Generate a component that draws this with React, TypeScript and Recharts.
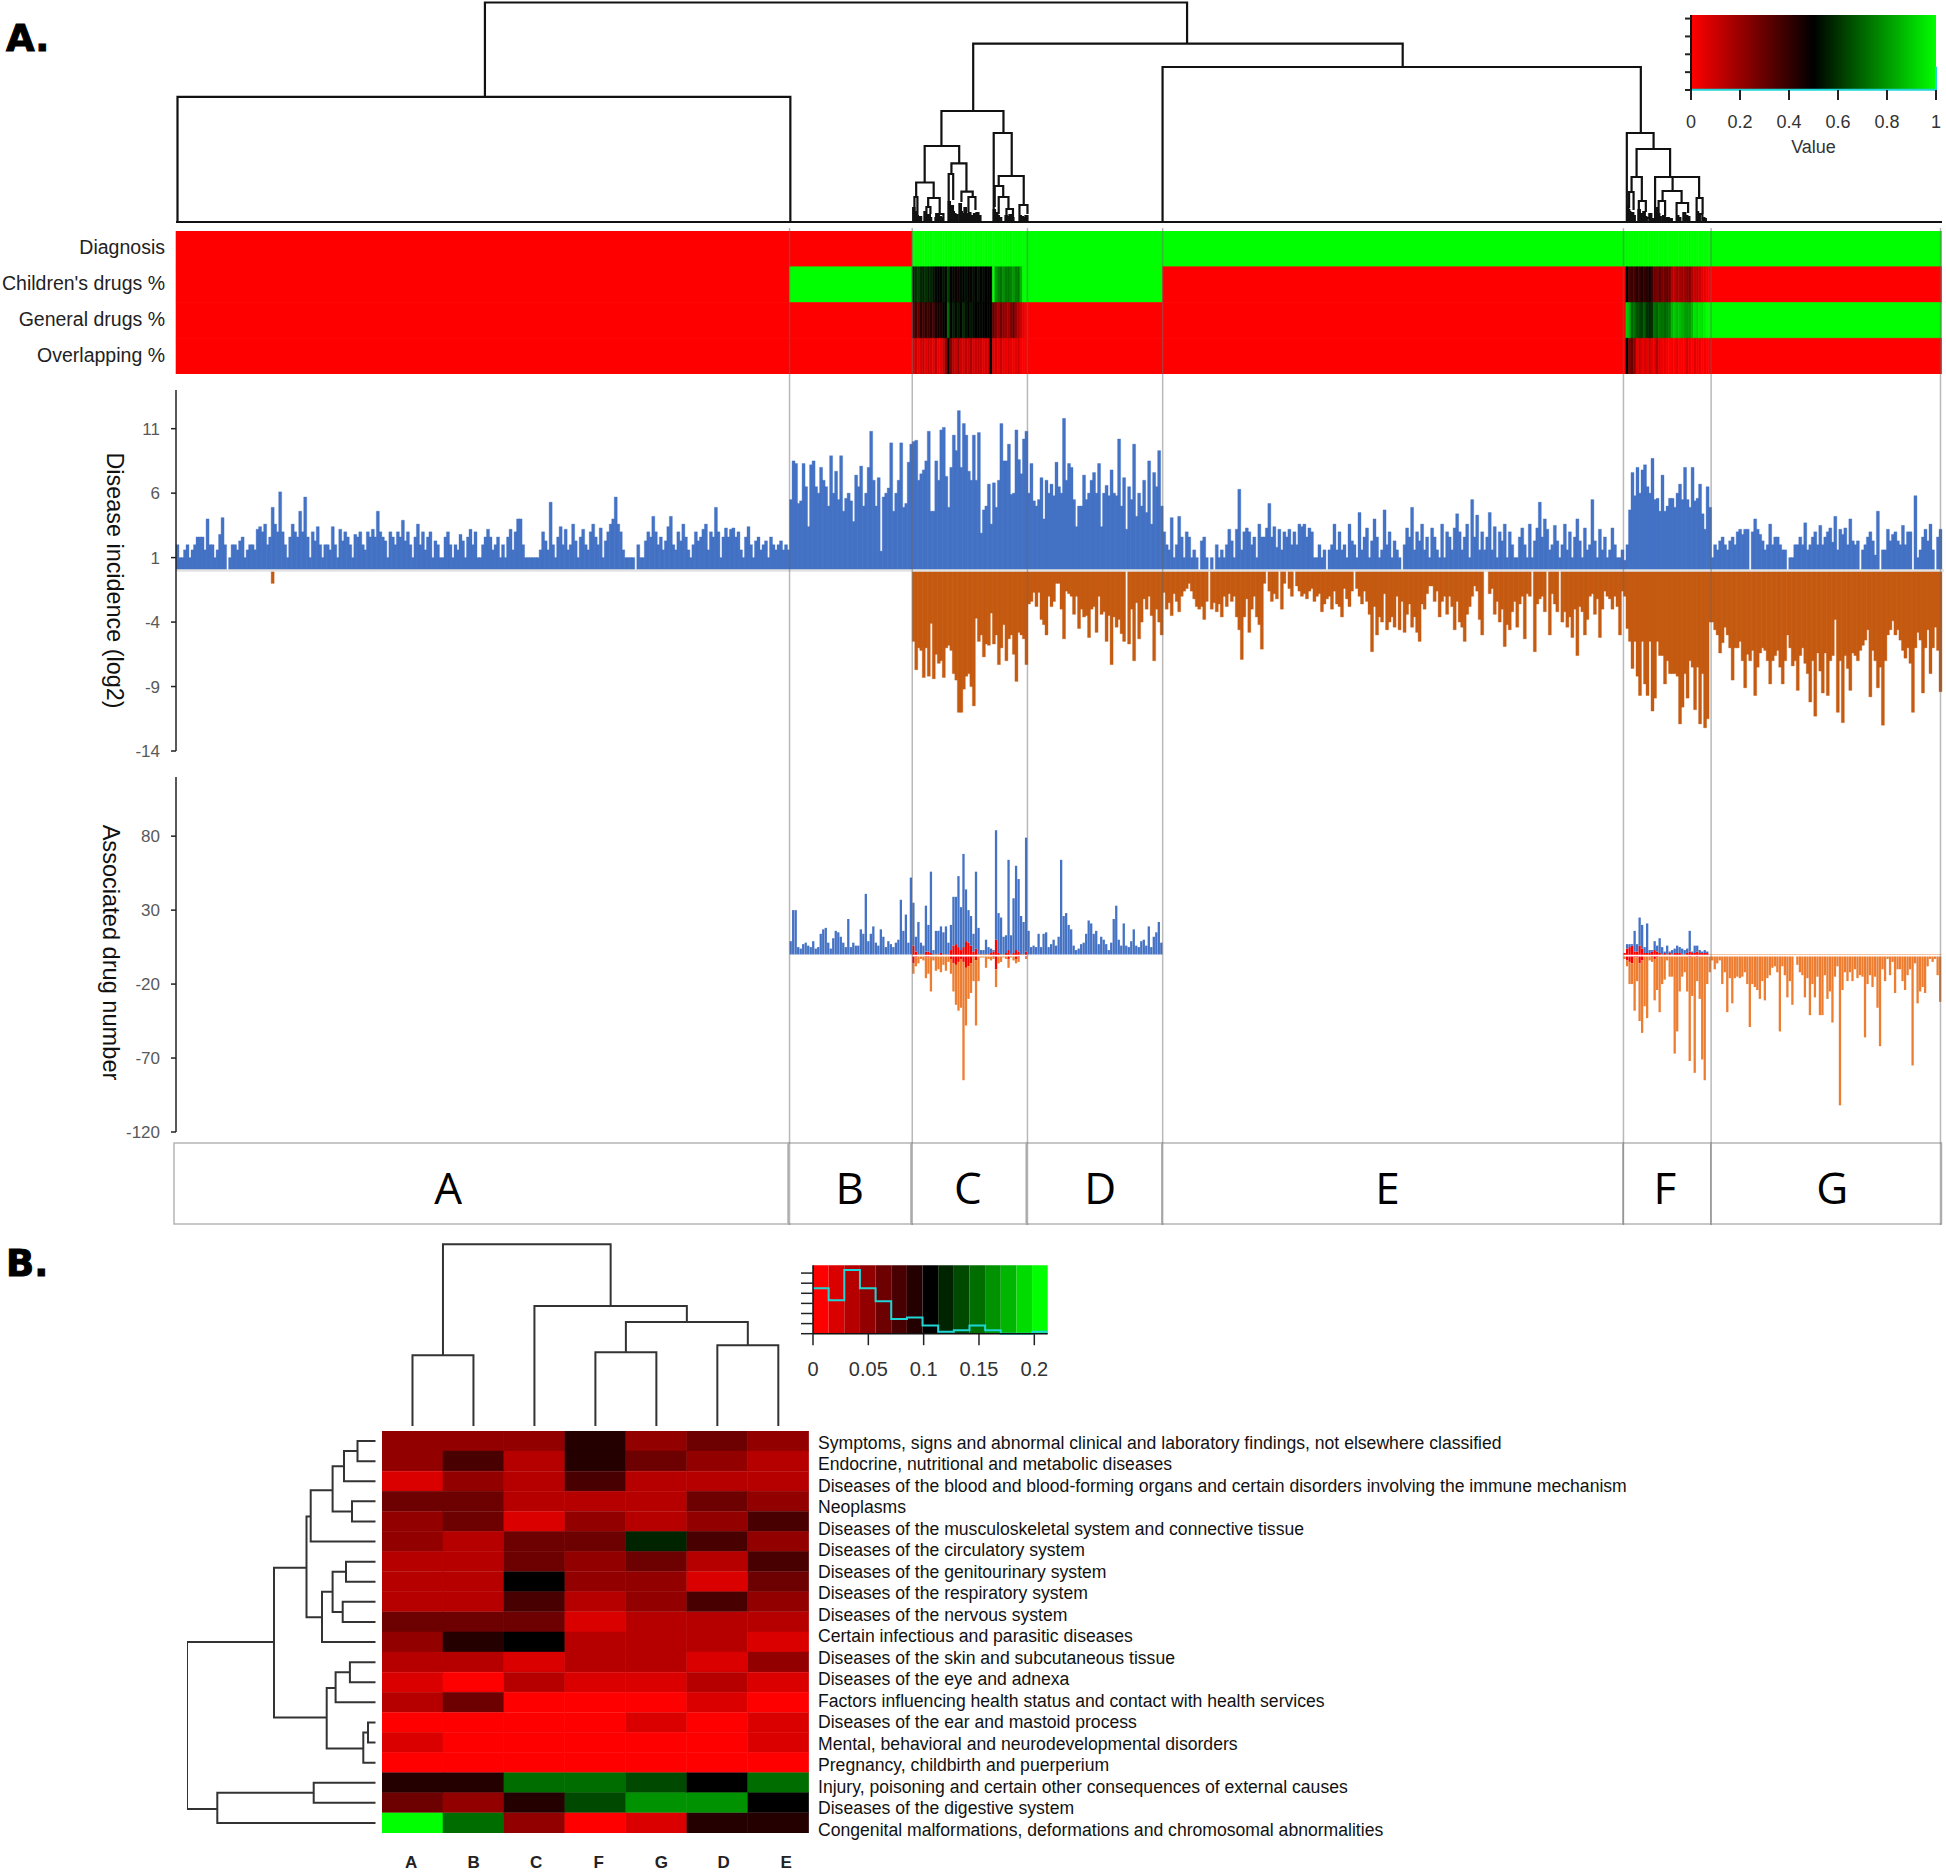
import * as React from "react"
import {
  Bar,
  BarChart,
  Cell,
  ComposedChart,
  LabelList,
  Line,
  LineChart,
  ReferenceArea,
  ReferenceLine,
  XAxis,
  YAxis,
} from "recharts"

const SANS = "'Liberation Sans', Arial, sans-serif"
const NARROW = "'Liberation Sans Narrow', 'Liberation Sans', sans-serif"

// disease groups, sizes are in ranks along the shared x axis
const sectionNames = ["A", "B", "C", "D", "E", "F", "G"]
const sectionSizes = [245, 49, 46, 54, 184, 35, 92]
const sectionEdges = [0, 245, 294, 340, 394, 578, 613, 705]
const separatorRanks = [245, 294, 340, 394, 578, 613, 704.6]
const letterShift: Record<string, number> = { A: -33, B: 0, C: -1, D: 6, E: -5, F: -2, G: 6 }

// Disease incidence (log2), positive side
const incidenceUpA = [
  2,1,1,1.6,2,1,1.6,2,2.6,2.6,2.6,1.6,4,2,2,1,1.6,2.8,4.1,2,
  0,1,2,2,1.6,2.3,2.6,1,1.6,2,2,1.6,3.2,3.4,3,3.6,2,2.6,4.9,3.6,
  3,6.1,3,2,1,2.6,3.6,3,2.6,4.6,3,5.7,2.6,1,3,2.3,3.4,2,1,2,
  2,1.6,3.4,2,1,3.2,2.3,3,2.6,2,1,2.8,2.6,3,2,1.6,3,2.6,3.2,2.6,
  4.6,3,2.6,2.3,1,3,2.6,2,3,2.6,3.9,2.3,3,2,1,2.6,3.6,2,3,1.6,
  2.6,3,1,2.3,2,1,1,2.6,3,2,1,2,1.6,2.8,2.3,1,2.6,3.2,2,3,
  1,1,2,2.6,3.2,2.6,1.6,2,2.6,1,2,1,2.6,3.2,1.6,3,4,4,2,1,
  1,1,1,1,1,1.6,3,2.3,1.6,5.3,2,1,2.6,3.4,2,3.2,1.6,2,3.6,2.3,
  1,2.6,3.2,2,1.6,3,3.6,2.6,2,3.3,1,2.3,3,3.6,4,5.7,3.6,3,1.6,1,
  1,1,1,0,2,1,1,2.3,3,2.6,4.2,3,2,2.6,1.6,2.3,3.4,4.2,2,1.6,
  3,2.3,3.6,2.6,1.6,1,2,3,2.3,2.6,3.2,3.6,1.6,3,2.6,4.9,3,1,2.6,3.3,
  2.6,3.2,3.3,2.6,3,1.6,1,2.6,3.4,2,1,2.3,2.6,1.6,2,2.3,1,2.6,2,1.6,
  2,2.3,1.6,2,1.6,
]
const incidenceUpB = [5.5,8.5,8.3,5.2,5.4,8.3,6.5,3.4,8.2,8.5,6.5,6,8,7,6.5,5,8.9,6,7.7,5.5,8.9,4.6,5.6,6,5.4,3.8,7.4,6.5,8.1,5,6,8,10.8,7,5,7.2,1.5,5.7,6,6.4,9.9,4.6,6,7,9.9,4.9,5.2,8.4,9.8]
const incidenceUpC = [10,10.1,7,7.5,7.8,8.5,10.8,4.6,4.6,8.5,7,10.9,11.1,7.3,4.9,8,10.5,9.3,12.4,8,11.4,10.5,7.7,7,10.5,7,10.7,2.9,4.7,5,6.7,3.6,6.8,4.9,7,11.4,8.5,8.5,9.8,5.9,6,10.9,8.6,7.5,10.2,10.8]
const incidenceUpD = [6,8.3,5.4,5,5.5,7.2,4,7,6,6.7,5.8,8.4,6.5,6,11.8,7,8.3,8,5.5,3.4,5,5,7.4,5.5,6,7,7.6,6,8.3,3.4,6,6.6,5.8,7.8,6,5.8,10.2,5,7.2,3.2,6.5,5.5,9.8,4.2,6,5,7,4.5,8.5,3.6,7.6,6.5,9.3,5]
const incidenceUpE = [
  3,2,1.6,4.1,1,2,4.2,2.6,1,3,2.6,1,1.6,1,0,2.3,2.6,1,0,1,
  0,2,1,1.6,1,2,3.2,2.3,1,3.2,6.3,1.6,3,3.3,3,2,2.6,1,3.6,2.6,
  2.6,3.3,5.2,2.6,3.4,1.8,3.2,1.6,3,2.6,3.2,2,3,2,3.6,3.4,3.6,2.6,3.3,3,
  1,1,2,1,1.6,0,1.6,2,3.6,1.6,3,1.6,2,1,3.6,2.3,2,1,4.5,1.6,
  2.6,3.3,1,2.3,4,2.6,1,1.6,4.7,2,3,1,2.3,1.6,1,0,2,3.3,2.6,4.9,
  1.6,3,2.3,3.6,1.6,2.6,1,3.3,2.6,1.6,1,3.6,1,3,2.6,1.6,3.3,4.4,3,1.6,
  2.6,3.6,1,5.5,2.6,4.3,1.6,3,1.6,2.6,4.5,1.6,3.4,1,3,2.3,3.6,1,3,2,
  1,1,2.6,3.3,2,1,3.6,1,2.3,3.3,5.3,2.6,4,3.2,1.6,2,3.5,2.3,1,2,
  3.6,1.6,3,1,2.6,4,2.3,1,3.3,1.6,2,5.5,2.3,1,3.2,1.6,2.6,1,1.6,3.3,
  2,1,1,1.6,
]
const incidenceUpF = [0.8,2,4.7,7.6,5.8,8,6,7.8,8.2,6.5,6,8.7,5.5,5.6,4.6,7.4,4.6,5,5.6,5.6,4.9,6,6.7,5.5,8,5.5,4.9,8,5.4,5.6,6.7,4.4,3.2,6.5,4.9]
const incidenceUpG = [
  1,2,1.6,2.3,2.6,2,1.6,2.3,2.6,2,3,3.2,2.8,3.2,3.2,0,3,4,3.2,2.8,
  2.3,1.6,2,3.6,2,2.6,2.6,2,1.6,1.6,0,1,1,2,2,2.6,2,3.7,1.6,2,
  2.6,3,2,3.5,2,2.6,3,3.3,2.2,4.2,1.6,3.2,2.8,3.3,2,4,2.3,2,2.3,0,
  1.6,2,2.6,3,2.3,1.2,4.6,0,1.6,1.6,3.2,2.3,2.8,3,2.3,2,3.5,2,3,3,
  0,5.8,1,1.6,2.6,3.2,2.3,3.6,1.6,0,2.6,3.2,
]

// Disease incidence, negative side, kept as magnitudes
const incidenceDownC = [5.5,7.7,6,6.2,8.3,6,8.2,4.1,8.4,6.5,7.2,7,8.3,6,5.8,6.2,8,8.5,11,11,9.2,8.2,8,9,10.5,3.7,5.5,5,6.7,5.7,5.8,3.3,5.7,5,7.3,6,4.2,7,5.3,5,6.5,8.6,4.8,5,5.3,7.3]
const incidenceDownD = [2.6,2.4,1.7,2.8,1.7,3.8,4.2,5,2,2.8,2.4,1,1,3,5.3,1.6,1.8,2,3.4,2,4.5,3,3.6,3.5,5.2,3,2.8,4.8,2,3.4,3.2,5.5,3.5,7.3,3.6,4.4,3.8,4.9,5.5,0,5.7,3,7,2.5,5.3,4,2.2,3,2,3.5,7,3,4,5]
const incidenceDownE = [
  1.7,3,2.5,3.5,1.8,2.4,3.2,2,1.6,1.4,1,1.6,2.2,2.8,3,2.8,3.8,2.4,0,3,
  2.5,3.2,2.6,3.6,2,2.8,1.8,2.4,2,3.6,4.6,6.9,3.6,2.2,4.8,3,2,3.6,4.2,6.1,
  1,0,1.6,2.4,1.8,2.2,0,3,1,0,1.4,2,0,1.2,1.6,2,1.8,2.2,1.6,1.4,
  2.4,2,1.8,3.2,2.6,2.2,2,3,1.6,2.6,2.8,3.6,1.4,2.2,2.8,1.6,0,1.4,2,2.6,
  1.6,2.4,3.4,6.3,2.8,5,3.6,4,1.8,4.6,4,3.6,4.4,2,4.6,2.4,4.8,3.4,2.6,4.4,
  3.6,4.8,5.5,2.6,3,1.8,1.2,1.2,2.4,1.6,3.6,2.4,2,3.4,2,2.8,4.6,2.4,4,4.4,
  5.5,3.4,2.8,2,1.2,1.6,3.8,5,0,0,1.8,1.4,3.4,2.4,4,3,5.9,4.2,4.6,3.2,
  2.4,4.4,2.6,2,5.3,1.8,2,0,6.3,2.6,2.2,2,3.2,0,5,1.8,2.6,3.2,0,4,
  3.2,4.4,3.6,5.2,3,6.6,2.8,3.2,5,3.8,2,1.8,3.4,2.2,5.2,3,1.6,2,2.2,3,
  2,2.8,5,1.6,
]
const incidenceDownF = [2,4.5,5.5,7.6,5.5,8.2,9.7,5.5,8.8,9.7,5.5,10.9,9.9,5.5,6.6,6.6,8.8,7,8,8,8,8.2,11.9,10.6,8,9.9,7,7.5,10.8,7.5,11.9,8,12.2,11.5,4]
const incidenceDownG = [
  4,4.6,5,6.4,5.6,4.4,5,6,8.5,6,6,5.5,7,9.1,6.5,7,6.2,9.7,7.5,6.4,
  6,6.2,7,8.8,7,6.6,6.2,7.5,8.8,7,5,6,7.4,7,9.3,6.6,6,7.2,8,10.2,
  7,11.3,6.4,7.8,9.5,6.4,9.7,7,6.6,3.8,11,7,11.8,6.6,7.6,9.3,6.4,6.6,7,6.2,
  5.8,5.4,4.6,9.8,6.2,7,9.1,7.5,12,7,5,4.6,3.9,5,4.6,5.4,6.2,6.8,6,7.2,
  11,6,4.8,5.4,9.5,6,4.6,8,6,4.4,6.2,9.4,
]
const strayDownRank = 38
const strayDownValue = 1

// Associated drug number
const drugUpB = [9,30,30,5,4,7,8,6,5,9,4,5,14,17,18,8,4,11,16,15,12,8,5,24,5,8,6,6,17,14,41,9,14,19,8,6,17,12,5,9,7,5,8,10,37,16,27,8,52]
const drugUpC = [35,12,22,8,6,33,20,56,3,16,16,19,15,19,8,20,39,39,53,32,68,44,30,26,14,56,18,3,3,10,5,4,3,84,28,25,12,13,64,13,38,60,51,26,22,79]
const drugUpD = [16,5,6,5,14,5,14,15,5,7,10,6,12,64,26,28,20,17,6,3,4,7,8,14,23,21,14,16,7,12,10,7,3,8,24,33,10,6,21,6,5,9,17,6,5,9,10,6,19,5,12,15,22,8]
const drugUpF = [0,7,7,7,16,7,25,20,5,21,3,3,9,6,11,5,2,6,2,3,4,6,5,4,3,4,16,2,6,6,3,2,3,2,0]
const drugDownC = [13,8,6,3,4,16,13,25,4,11,10,12,7,11,5,13,25,34,38,36,85,48,30,26,18,48,18,2,2,9,3,4,3,22,6,5,2,3,9,2,4,6,5,1,1,3]
const drugDownF = [3,8,20,20,38,18,45,53,35,43,4,5,31,24,39,20,17,4,15,15,67,52,25,15,12,25,72,28,80,18,30,71,85,20,12]
const drugDownG = [
  4,10,6,4,20,12,39,16,33,16,15,16,15,12,20,49,20,22,24,30,
  18,31,16,14,9,8,12,52,8,14,29,18,34,1,7,12,14,29,16,41,
  20,29,15,41,41,14,30,25,46,15,8,102,24,12,18,12,18,10,16,14,
  15,56,20,14,22,15,36,62,10,18,3,14,5,26,10,10,18,24,14,10,
  75,6,33,25,22,26,8,3,5,3,14,32,
]
const overlapC = [6,2,0,0,0,2,2,1,0,0,0,1,0,0,0,3,6,7,5,3,5,9,8,6,2,4,0,0,0,0,0,1,2,10,1,0,0,1,3,0,1,3,2,0,0,2]
const overlapF = [1,4,5,6,2,2,6,4,1,1,1,2,3,2,1,0,1,0,1,0,1,1,1,0,0,1,2,1,1,2,1,1,1,1,0]

// top heat strip, values 0..1
const heatRowNames = ["Diagnosis", "Children's drugs %", "General drugs %", "Overlapping %"]
const childrenC = [.58,.6,.62,.58,.56,.6,.55,.58,.54,.52,.5,.5,.54,.52,.62,.5,.52,.47,.48,.52,.5,.54,.5,.48,.53,.5,.54,.5,.52,.5,.5,.5,1,.8,.75,.72,.78,.74,.72,.76,.8,.75,.72,.85,1,1]
const generalC = [.32,.38,.3,.42,.36,.4,.38,.42,.36,.44,.46,.44,.48,.5,.7,.5,.56,.52,.55,.5,.58,.54,.5,.55,.52,.5,.5,.52,.5,.5,.5,.5,.3,.25,.2,.28,.22,.2,.18,.24,.3,.2,.16,.1,.05,0]
const overlappingC = [.05,.1,.05,.08,.12,.05,.12,.08,.05,.12,.05,.04,.1,.2,.48,.25,.15,.1,.2,.1,.08,.12,.1,.16,.08,.1,.12,.1,.06,.08,.1,.5,.05,.08,.05,.1,.05,.04,.08,.05,.03,.05,.1,.02,0,0]
const childrenF = [.5,.36,.38,.36,.42,.38,.44,.4,.42,.46,.38,.28,.26,.32,.26,.28,.3,.28,.15,.12,.18,.16,.2,.18,.22,.24,.16,.1,.12,.1,.06,.04,.02]
const generalF = [.9,.85,.7,.72,.66,.64,.62,.68,.6,.58,.6,.72,.7,.74,.72,.7,.72,.74,.85,.9,.86,.88,.84,.82,.8,.8,.86,.95,.92,.96,.94,.98,1]
const overlappingF = [.5,.25,.3,.22,.05,.1,.05,.08,.05,.1,.05,.05,.15,.05,.03,.05,.02,0,.03,0,.05,0,.02,0,.08,.03,0,.06,.02,.04,0,.02,0]

// top dendrogram: left, right, height, left drop, right drop
const topTree = [
  [0, 706, 0],
  [123.5,404.2,219.5,125.2,178.4],[0.6,245.6,125.2],[318.7,490.4,178.4,111,155],[306,330.8,111,76,89],
  [394.4,585.6,155,0,89],[580,590.7,89,0,73],
  [299.3,313.1,76,39.5,58.7],[295.9,302.9,39.5,25,24],[310,316,58.7,48,30.3],[308.9,310.7,48,18,22],
  [314,318.5,30.3,20,25],[316.8,319.6,25,10,12],[295.2,296.4,25,12,0],[300.7,305.3,24,15,8],[300,301.6,15,6,8],
  [303.9,306.8,8,3,4],[326.9,334.1,89,0,46],[328.9,338.9,46,36,17],[327.3,330.7,36,15,25],[328.9,332.8,25,8,13],
  [332,334.6,13,4,5],[337.2,340.4,17,6,8],
  [294.7,295.3,14],[294.9,295.7,10],[295.3,296,7],[296,296.6,6],[296.6,297.2,4],[297.2,297.9,5],
  [299.2,299.8,10],[299.5,300.2,7],[300.2,300.8,5],[300.8,301.4,7],[301.4,301.9,4],
  [303.6,304.2,4],[304.4,305,6],[305.2,305.8,5],[306,306.8,4],
  [308.8,309.4,20],[309,309.6,14],[309.4,310,12],[310,310.6,16],[310.4,311,10],[311,311.6,8],[311.6,312.3,7],
  [313.2,313.8,18],[313.6,314.2,10],[314.2,314.8,8],[315.2,315.8,14],[315.6,316.4,8],[316.2,316.8,5],
  [316.9,317.6,9],[317.6,318.2,6],[318.4,319,5],[319,319.8,8],[320,320.8,9],[320.8,321.6,6],
  [326.8,327.4,12],[327.2,327.8,8],[327.8,328.4,9],[328.4,329,6],[329,329.9,4],
  [331.6,332.2,6],[332.4,333,5],[333.2,333.8,7],[334,334.8,4],
  [337.2,337.8,6],[338,338.6,5],[338.8,339.4,4],[339.6,340.4,6],
  [583.9,597.3,73,45,45],[581.9,586,45,30,21],[580.9,582.7,30,14,12],[591.3,608.9,45,14,24],[598.3,598.3,45,31,31],
  [594.3,601.9,31,21,19],[607.9,610.3,24,10,8],[592.7,595.3,21,8,6],[599.9,604.5,19,6,9],[584.8,587.6,21,12,10],
  [580,580.6,16],[580.3,581,12],[580.8,581.4,10],[581.3,582,8],[582,582.6,9],[582.6,583.2,6],
  [584.6,585.2,12],[585,585.6,7],[585.8,586.4,8],[586.6,587.2,10],[587.2,587.8,5],[588,589,4],[589,589.8,8],[590.4,591,3],
  [591.3,592,14],[592.4,593,8],[593,593.6,5],[594.5,595.2,6],[596,596.8,4],[597.4,598,3],[599.9,600.6,6],[600.6,601.4,4],
  [602.6,603.4,9],[603.4,604.2,6],[604.4,605,5],[607.9,608.5,10],[608.4,609,6],[609.2,610.2,8],[610.2,611,4],[611,611.6,3],
]

// colour key A
const keyAValues = [0, 0.25, 0.5, 0.75, 0.99, 1]
const keyACounts = [0.02, 0.02, 0.02, 0.02, 0.02, 1.3]
const keyATicks = [0, 0.2, 0.4, 0.6, 0.8, 1]

// panel B
const columnNames = ["A", "B", "C", "F", "G", "D", "E"]
const diseaseNames = [
  "Symptoms, signs and abnormal clinical and laboratory findings, not elsewhere classified",
  "Endocrine, nutritional and metabolic diseases",
  "Diseases of the blood and blood-forming organs and certain disorders involving the immune mechanism",
  "Neoplasms",
  "Diseases of the musculoskeletal system and connective tissue",
  "Diseases of the circulatory system",
  "Diseases of the genitourinary system",
  "Diseases of the respiratory system",
  "Diseases of the nervous system",
  "Certain infectious and parasitic diseases",
  "Diseases of the skin and subcutaneous tissue",
  "Diseases of the eye and adnexa",
  "Factors influencing health status and contact with health services",
  "Diseases of the ear and mastoid process",
  "Mental, behavioral and neurodevelopmental disorders",
  "Pregnancy, childbirth and puerperium",
  "Injury, poisoning and certain other consequences of external causes",
  "Diseases of the digestive system",
  "Congenital malformations, deformations and chromosomal abnormalities",
]
const shareRows = [
  [.05,.05,.05,.092,.05,.064,.05],
  [.05,.078,.035,.092,.064,.05,.035],
  [.021,.05,.035,.078,.035,.035,.035],
  [.064,.064,.035,.035,.035,.064,.05],
  [.05,.064,.021,.05,.035,.05,.078],
  [.05,.035,.064,.064,.12,.078,.05],
  [.035,.035,.064,.05,.064,.035,.078],
  [.035,.035,.106,.05,.05,.021,.064],
  [.035,.035,.078,.035,.05,.078,.05],
  [.064,.064,.064,.021,.035,.035,.035],
  [.05,.092,.106,.035,.035,.035,.021],
  [.035,.035,.021,.035,.035,.021,.05],
  [.021,.007,.035,.021,.021,.035,.021],
  [.035,.064,.007,.007,.007,.021,.007],
  [.007,.007,.007,.007,.021,.007,.021],
  [.021,.007,.007,.007,.007,.007,.021],
  [.007,.007,.007,.007,.007,.007,.007],
  [.092,.092,.148,.148,.134,.106,.148],
  [.064,.05,.092,.134,.163,.163,.106],
  [.205,.148,.05,.007,.021,.092,.092],
]
const keyBBinCount = 15
const keyBMax = 0.2121
const keyBCounts = [4.5,3.3,6.3,4.5,3.2,1.45,1.6,.8,.2,.35,.8,.35,0,0,.2]
const keyBTicks = [0, 0.05, 0.1, 0.15, 0.2]

const columnTree = [
  [0.5,1.5,70.7],[3.5,4.5,73.8],[5.5,6.5,80.7],[4,6,104,73.8,80.7],[2.5,5,120,0,104],[1,3.75,181.7,70.7,120],
]
// left tree: depth of the join, row from, row to, depth at from, depth at to
const rowTree = [
  [170.5,0.5,1.5,188.5,188.5],[157,1,2.5,170.5,188.5],[165,3.5,4.5,188.5,188.5],[145.6,1.75,4,157,165],
  [123.7,2.95,5.5,145.6,188.5],[159,6.5,7.5,188.5,188.5],[155.7,8.5,9.5,188.5,188.5],[145.6,7,9,159,155.7],
  [135,8,10.5,145.6,188.5],[119.5,4.25,9.27,123.7,135],[162.9,11.5,12.5,188.5,188.5],[148.6,12,13.5,162.9,188.5],
  [181,14.5,15.5,188.5,188.5],[176.3,15,16.5,181,188.5],[139.7,12.78,15.8,148.6,176.3],[87,6.8,14.25,119.5,139.7],
  [126.7,17.5,18.5,188.5,188.5],[30.3,18,19.5,126.7,188.5],[0,10.5,18.8,87,30.3],
]

function keyColor(v: number) {
  const t = Math.max(0, Math.min(1, v))
  if (t < 0.5) return `rgb(${Math.round(255 * (1 - 2 * t))},0,0)`
  return `rgb(0,${Math.round(255 * (2 * t - 1))},0)`
}

function putSections(rows: any[], key: string, sections: number[][], sign = 1) {
  sections.forEach((values, s) => {
    values.forEach((v, i) => {
      const rank = sectionEdges[s] + Math.floor((i * sectionSizes[s]) / values.length)
      rows[rank][key] = sign * v
    })
  })
}

function emptyRows() {
  return Array.from({ length: 706 }, (_, rank) => ({ rank } as any))
}

const incidenceRows = emptyRows()
putSections(incidenceRows, "up", [incidenceUpA, incidenceUpB, incidenceUpC, incidenceUpD, incidenceUpE, incidenceUpF, incidenceUpG])
putSections(incidenceRows, "down", [[], [], incidenceDownC, incidenceDownD, incidenceDownE, incidenceDownF, incidenceDownG], -1)
incidenceRows[strayDownRank].down = -strayDownValue

const drugRows = emptyRows()
putSections(drugRows, "blue", [[], drugUpB, drugUpC, drugUpD, [], drugUpF, []])
putSections(drugRows, "orange", [[], [], drugDownC, [], [], drugDownF, drugDownG])
putSections(drugRows, "red", [[], [], overlapC, [], [], overlapF, []])
drugRows.forEach((r) => {
  const red = r.red ?? 0
  r.redUp = red
  r.redDown = -red
  r.blueRest = Math.max(0, (r.blue ?? 0) - red)
  r.orangeRest = -Math.max(0, (r.orange ?? 0) - red)
})

const ones = (n: number) => Array.from({ length: n }, () => 1)
const heatSpans = [245, 49, ...ones(46), 54, 185, ...ones(33), 93]
const heatValues = [
  [0, 0, ...ones(46), 1, 1, ...ones(33), 1],
  [0, 1, ...childrenC, 1, 0, ...childrenF, 0],
  [0, 0, ...generalC, 0, 0, ...generalF, 1],
  [0, 0, ...overlappingC, 0, 0, ...overlappingF, 0],
]
const heatRows = heatRowNames.map((name) => {
  const row: any = { name }
  heatSpans.forEach((s, i) => (row[`c${i}`] = s))
  return row
})

function treePoints(branches: number[][]) {
  return branches.flatMap(([l, r, h, hl = 0, hr = 0]) => [
    { pos: l, height: hl },
    { pos: l, height: h },
    { pos: r, height: h },
    { pos: r, height: hr },
    { pos: r, height: null },
  ])
}

function rowTreePoints(branches: number[][]) {
  return branches.flatMap(([depth, from, to, dFrom, dTo]) => [
    { pos: dFrom, row: from },
    { pos: depth, row: from },
    { pos: depth, row: to },
    { pos: dTo, row: to },
    { pos: dTo, row: null },
  ])
}

const keyARows = keyAValues.map((value, i) => ({ value, count: keyACounts[i] }))
const keyBBinWidth = keyBMax / keyBBinCount
const keyBRows = [
  ...keyBCounts.map((count, i) => ({ value: i * keyBBinWidth, count })),
  { value: keyBMax, count: keyBCounts[keyBCounts.length - 1] },
]

const sectionRow = [
  sectionNames.reduce((row: any, name, i) => ({ ...row, [name]: sectionSizes[i] }), { name: "groups" }),
]
const separatorPoints = treePoints(separatorRanks.map((rank) => [rank, rank, 1]))
const shareTable = shareRows.map((values, i) => {
  const row: any = { row: i }
  columnNames.forEach((c) => (row[c] = 1))
  return row
})
const diseaseRows = diseaseNames.map((name) => ({ name }))
const columnRows = columnNames.map((name) => ({ name }))

function Place({ left, top, children }: { left: number; top: number; children: React.ReactNode }) {
  return <div style={{ position: "absolute", left, top }}>{children}</div>
}

const axisTick = { fill: "#595959", fontSize: 17, fontFamily: NARROW }
const noTickText = () => <g />

export default function App() {
  return (
    <div style={{ position: "absolute", left: 0, top: 0, width: 1946, height: 1872, background: "#fff", overflow: "hidden" }}>
      <div style={{ position: "absolute", left: 6, top: 17, font: "bold 37px 'DejaVu Sans'", WebkitTextStroke: "1px #000" }}>A.</div>
      <div style={{ position: "absolute", left: 6, top: 1242, font: "bold 37px 'DejaVu Sans'", WebkitTextStroke: "1px #000" }}>B.</div>

      {/* top dendrogram */}
      <Place left={176} top={0}>
        <LineChart width={1766} height={224} data={treePoints(topTree)} margin={{ top: 0, right: 0, bottom: 2, left: 0 }}>
          <XAxis type="number" dataKey="pos" domain={[0, 706]} hide />
          <YAxis type="number" domain={[0, 222]} hide />
          <Line dataKey="height" stroke="#111" strokeWidth={2.2} dot={false} isAnimationActive={false} type="linear" />
        </LineChart>
      </Place>

      {/* colour key A */}
      <Place left={1650} top={0}>
        <ComposedChart width={300} height={170} data={keyARows} margin={{ top: 15, right: 14, bottom: 0, left: 0 }}>
          <defs>
            <linearGradient id="keyAFill" x1="0" y1="0" x2="1" y2="0">
              <stop offset="0%" stopColor="#ff0000" />
              <stop offset="50%" stopColor="#000000" />
              <stop offset="100%" stopColor="#00ff00" />
            </linearGradient>
          </defs>
          <XAxis
            type="number"
            dataKey="value"
            domain={[0, 1]}
            ticks={keyATicks}
            height={80}
            axisLine={false}
            tickSize={10}
            tickLine={{ stroke: "#222", strokeWidth: 2 }}
            tickMargin={15}
            tick={{ fill: "#333", fontSize: 18, fontFamily: NARROW }}
            label={{ value: "Value", position: "insideBottom", offset: 17, fill: "#333", fontSize: 18, fontFamily: NARROW }}
          />
          <YAxis
            type="number"
            domain={[0, 4.2]}
            ticks={[0, 1, 2, 3, 4]}
            width={41}
            interval={0}
            tick={noTickText}
            tickSize={6}
            axisLine={{ stroke: "#111", strokeWidth: 2 }}
            tickLine={{ stroke: "#222", strokeWidth: 2 }}
          />
          <ReferenceArea x1={0} x2={1} fill="url(#keyAFill)" fillOpacity={1} stroke="none" />
          <Line dataKey="count" type="stepAfter" stroke="#1fd6d6" strokeWidth={2} dot={false} isAnimationActive={false} />
        </ComposedChart>
      </Place>

      {/* heat strip */}
      <Place left={0} top={231}>
        <BarChart width={1946} height={143} data={heatRows} layout="vertical" barCategoryGap={0} margin={{ top: 0, right: 2, bottom: 0, left: 0 }}>
          <XAxis type="number" domain={[0, 706]} hide />
          <YAxis
            type="category"
            dataKey="name"
            width={176}
            interval={0}
            axisLine={false}
            tickLine={false}
            tickSize={0}
            tickMargin={11}
            tick={{ fill: "#222", fontSize: 19.5, fontFamily: SANS, dy: -1.5 }}
          />
          {heatSpans.map((_, i) => (
            <Bar key={i} dataKey={`c${i}`} stackId="heat" isAnimationActive={false}>
              {heatRows.map((_, r) => {
                const fill = keyColor(heatValues[r][i])
                return <Cell key={r} fill={fill} stroke={fill} strokeWidth={0.6} />
              })}
            </Bar>
          ))}
        </BarChart>
      </Place>

      {/* disease incidence */}
      <Place left={0} top={380}>
        <BarChart width={1946} height={381} data={incidenceRows} stackOffset="sign" barCategoryGap={0} margin={{ top: 10, right: 2, bottom: 10, left: 0 }}>
          <XAxis dataKey="rank" hide />
          <YAxis
            type="number"
            domain={[-14, 14]}
            ticks={[-14, -9, -4, 1, 6, 11]}
            width={176}
            interval={0}
            tick={axisTick}
            tickSize={5}
            tickMargin={11}
            axisLine={{ stroke: "#222", strokeWidth: 1.5 }}
            tickLine={{ stroke: "#222", strokeWidth: 1.5 }}
            label={{ value: "Disease incidence (log2)", position: "center", angle: 90, dx: 27.5, dy: 10, fill: "#111", fontSize: 23.4, fontFamily: SANS }}
          />
          <Bar dataKey="up" stackId="inc" fill="#4472C4" stroke="#4472C4" strokeWidth={0.35} isAnimationActive={false} />
          <Bar dataKey="down" stackId="inc" fill="#C55A11" stroke="#C55A11" strokeWidth={0.35} isAnimationActive={false} />
          <ReferenceLine y={0} stroke="#e3e3e3" strokeWidth={2.5} />
        </BarChart>
      </Place>

      {/* associated drugs */}
      <Place left={0} top={767}>
        <BarChart width={1946} height={375} data={drugRows} stackOffset="sign" barCategoryGap={0} barSize={2.3} margin={{ top: 10, right: 2, bottom: 10, left: 0 }}>
          <XAxis dataKey="rank" hide />
          <YAxis
            type="number"
            domain={[-120, 120]}
            ticks={[-120, -70, -20, 30, 80]}
            width={176}
            interval={0}
            tick={axisTick}
            tickSize={5}
            tickMargin={11}
            axisLine={{ stroke: "#222", strokeWidth: 1.5 }}
            tickLine={{ stroke: "#222", strokeWidth: 1.5 }}
            label={{ value: "Associated drug number", position: "center", angle: 90, dx: 23.5, dy: -2, fill: "#111", fontSize: 23.6, fontFamily: SANS }}
          />
          <Bar dataKey="redUp" stackId="drug" fill="#FF0000" isAnimationActive={false} />
          <Bar dataKey="blueRest" stackId="drug" fill="#4472C4" isAnimationActive={false} />
          <Bar dataKey="redDown" stackId="drug" fill="#FF0000" isAnimationActive={false} />
          <Bar dataKey="orangeRest" stackId="drug" fill="#ED7D31" isAnimationActive={false} />
          <ReferenceLine y={-0.8} stroke="#ffffff" strokeWidth={1.5} />
        </BarChart>
      </Place>

      {/* group letters */}
      <Place left={0} top={1142}>
        <BarChart width={1946} height={83} data={sectionRow} layout="vertical" barCategoryGap={0} margin={{ top: 1, right: 2, bottom: 1, left: 174 }}>
          <XAxis type="number" domain={[0, 706]} hide />
          <YAxis type="category" dataKey="name" hide />
          {sectionNames.map((name) => (
            <Bar key={name} dataKey={name} stackId="groups" fill="#fff" stroke="#b5b5b5" strokeWidth={1.5} isAnimationActive={false}>
              <LabelList
                content={(p: any) => (
                  <text
                    x={p.x + p.width / 2 + letterShift[name]}
                    y={p.y + p.height / 2 + 20}
                    textAnchor="middle"
                    fontSize={44}
                    fontFamily="'Open Sans'"
                    fill="#000"
                  >
                    {name}
                  </text>
                )}
              />
            </Bar>
          ))}
        </BarChart>
      </Place>

      {/* group separators running through the panels */}
      <Place left={0} top={228}>
        <LineChart width={1946} height={997} data={separatorPoints} margin={{ top: 0, right: 2, bottom: 0, left: 176 }}>
          <XAxis type="number" dataKey="pos" domain={[0, 706]} hide />
          <YAxis type="number" domain={[0, 1]} hide />
          <Line dataKey="height" stroke="rgba(100,100,100,0.45)" strokeWidth={1.5} dot={false} isAnimationActive={false} type="linear" />
        </LineChart>
      </Place>

      {/* panel B column tree */}
      <Place left={381.8} top={1240}>
        <LineChart width={426.8} height={186} data={treePoints(columnTree)} margin={{ top: 0, right: 0, bottom: 0, left: 0 }}>
          <XAxis type="number" dataKey="pos" domain={[0, 7]} hide />
          <YAxis type="number" domain={[0, 186]} hide />
          <Line dataKey="height" stroke="#333" strokeWidth={2} dot={false} isAnimationActive={false} type="linear" />
        </LineChart>
      </Place>

      {/* panel B row tree */}
      <Place left={187.4} top={1430.7}>
        <LineChart width={188.5} height={402} data={rowTreePoints(rowTree)} margin={{ top: 0, right: 0, bottom: 0, left: 0 }}>
          <XAxis type="number" dataKey="pos" domain={[0, 188.5]} hide />
          <YAxis type="number" domain={[0, 20]} reversed hide />
          <Line dataKey="row" stroke="#333" strokeWidth={2} dot={false} isAnimationActive={false} type="linear" />
        </LineChart>
      </Place>

      {/* panel B heatmap */}
      <Place left={381.8} top={1430.7}>
        <BarChart width={426.8} height={402} data={shareTable} layout="vertical" barCategoryGap={0} margin={{ top: 0, right: 0, bottom: 0, left: 0 }}>
          <XAxis type="number" domain={[0, 7]} hide />
          <YAxis type="category" dataKey="row" hide />
          {columnNames.map((c, col) => (
            <Bar key={c} dataKey={c} stackId="cells" isAnimationActive={false}>
              {shareRows.map((values, r) => {
                const bin = Math.floor(values[col] / keyBBinWidth)
                const fill = keyColor(bin / (keyBBinCount - 1))
                return <Cell key={r} fill={fill} stroke={fill} strokeWidth={0.5} />
              })}
            </Bar>
          ))}
        </BarChart>
      </Place>

      {/* panel B column names */}
      <Place left={380} top={1850}>
        <BarChart width={437.5} height={22} data={columnRows} margin={{ top: 0, right: 0, bottom: 0, left: 0 }}>
          <XAxis
            dataKey="name"
            height={22}
            orientation="top"
            interval={0}
            axisLine={false}
            tickLine={false}
            tickSize={0}
            tick={{ fill: "#222", fontSize: 17, fontWeight: 700, fontFamily: SANS, dy: -2 }}
          />
          <YAxis hide />
        </BarChart>
      </Place>

      {/* panel B disease names */}
      <Place left={810} top={1432}>
        <BarChart width={1000} height={408.5} data={diseaseRows} layout="vertical" margin={{ top: 0, right: 0, bottom: 0, left: 0 }}>
          <XAxis type="number" hide />
          <YAxis
            type="category"
            dataKey="name"
            orientation="right"
            width={992}
            interval={0}
            axisLine={false}
            tickLine={false}
            tickSize={0}
            tickMargin={0}
            tick={{ fill: "#111", fontSize: 17.6, fontFamily: SANS }}
          />
        </BarChart>
      </Place>

      {/* colour key B */}
      <Place left={770} top={1250}>
        <ComposedChart width={300} height={140} data={keyBRows} margin={{ top: 15.3, right: 22.3, bottom: 0, left: 0 }}>
          <XAxis
            type="number"
            dataKey="value"
            domain={[0, keyBMax]}
            ticks={keyBTicks}
            height={56.3}
            axisLine={{ stroke: "#111", strokeWidth: 1.5 }}
            tickSize={11.5}
            tickLine={{ stroke: "#222", strokeWidth: 1.5 }}
            tickMargin={17}
            tick={{ fill: "#333", fontSize: 20, fontFamily: SANS }}
          />
          <YAxis
            type="number"
            domain={[0, 6.77]}
            ticks={[0, 1, 2, 3, 4, 5, 6]}
            width={43}
            interval={0}
            tick={noTickText}
            tickSize={12}
            axisLine={{ stroke: "#111", strokeWidth: 1.5 }}
            tickLine={{ stroke: "#222", strokeWidth: 1.5 }}
          />
          {keyBCounts.map((_, i) => (
            <ReferenceArea
              key={i}
              x1={i * keyBBinWidth}
              x2={(i + 1) * keyBBinWidth}
              fill={keyColor(i / (keyBBinCount - 1))}
              fillOpacity={1}
              stroke="none"
            />
          ))}
          <Line dataKey="count" type="stepAfter" stroke="#1fd6d6" strokeWidth={2} dot={false} isAnimationActive={false} />
        </ComposedChart>
      </Place>
    </div>
  )
}
